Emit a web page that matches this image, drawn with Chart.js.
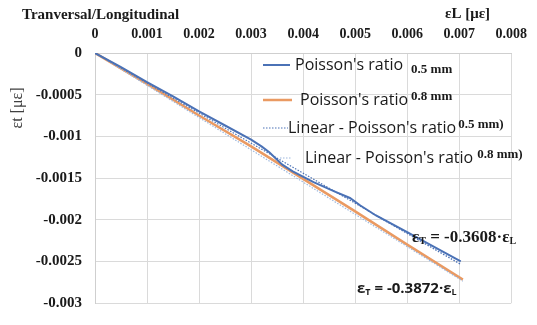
<!DOCTYPE html>
<html>
<head>
<meta charset="utf-8">
<script src="https://cdn.jsdelivr.net/npm/chart.js@4.4.1/dist/chart.umd.min.js"></script>
<style>
  html, body { margin: 0; padding: 0; background: #ffffff; }
  #wrap { width: 537px; height: 325px; }
</style>
</head>
<body>
<div id="wrap"><canvas id="c" width="537" height="325"></canvas></div>
<script>
// Longitudinal strain (x) and transversal strain (y) for the 0.5 mm specimen
const strainL05 = [0, 0.0005, 0.001, 0.0015, 0.002, 0.0025, 0.003, 0.0032, 0.00335, 0.0036, 0.0038, 0.0042, 0.0046, 0.0049, 0.0051, 0.0054, 0.006, 0.0065, 0.00703];
const strainT05 = [0, -0.00017, -0.00035, -0.00052, -0.0007, -0.00087, -0.00104, -0.00112, -0.00119, -0.00134, -0.00142, -0.00155, -0.00166, -0.00174, -0.00183, -0.00195, -0.00215, -0.00232, -0.0025];

// Same for the 0.8 mm specimen
const strainL08 = [0, 0.001, 0.002, 0.003, 0.004, 0.005, 0.006, 0.00707];
const strainT08 = [0, -0.00037, -0.00075, -0.00112, -0.00151, -0.0019, -0.0023, -0.00272];

// Fitted Poisson slopes (through the origin)
const slope05 = -0.3608;
const slope08 = -0.3872;
const fitRange05 = [0, 0.00703];
const fitRange08 = [0, 0.00707];

// Axis tick labels
const xTickLabels = ['0', '0.001', '0.002', '0.003', '0.004', '0.005', '0.006', '0.007', '0.008'];
const yTickLabels = ['0', '-0.0005', '-0.001', '-0.0015', '-0.002', '-0.0025', '-0.003'];

const BLUE = '#4b72b6';
const ORANGE = '#ea9a62';
const PALE = '#9db8de';

const pts = (xs, ys) => xs.map((x, i) => ({ x: x, y: ys[i] }));
const fit = (range, k) => range.map(x => ({ x: x, y: k * x }));

const SERIF = '"Liberation Serif", "Times New Roman", serif';
const SANS = '"Open Sans", "Noto Sans", sans-serif';

// Legend, titles and equations drawn directly on the canvas
const decor = {
  id: 'decor',
  afterDraw(chart) {
    const ctx = chart.ctx;
    ctx.save();
    ctx.textBaseline = 'middle';
    ctx.fillStyle = '#1a1a1a';

    ctx.font = 'bold 15px ' + SERIF;
    ctx.textAlign = 'left';
    ctx.fillText('Tranversal/Longitudinal', 22, 15);

    ctx.font = 'bold 15px ' + SERIF;
    ctx.fillText('εL [με]', 445, 14);

    ctx.save();
    ctx.translate(18, 108);
    ctx.rotate(-Math.PI / 2);
    ctx.textAlign = 'center';
    ctx.fillStyle = '#404040';
    ctx.font = '16px ' + SERIF;
    ctx.fillText('εt [με]', 0, 0);
    ctx.restore();

    // legend rows
    const row = (sx0, sx1, y, color, dash, lw, label, tx, script, dy, gap) => {
      ctx.save();
      ctx.strokeStyle = color;
      ctx.lineWidth = lw;
      ctx.setLineDash(dash);
      ctx.beginPath();
      ctx.moveTo(sx0, y);
      ctx.lineTo(sx1, y);
      ctx.stroke();
      ctx.restore();
      ctx.fillStyle = '#1a1a1a';
      ctx.font = '16px ' + SANS;
      ctx.fillText(label, tx, y);
      const w = ctx.measureText(label).width;
      ctx.font = 'bold 13px ' + SERIF;
      ctx.fillText(script, tx + w + gap, y + dy);
    };
    row(263, 290, 65, BLUE, [], 2, "Poisson's ratio", 295, '0.5 mm', 5, 8);
    row(263, 292, 100, ORANGE, [], 2.5, "Poisson's ratio", 300, '0.8 mm', -3, 3);
    row(263, 288, 128, BLUE, [1.5, 1.5], 1.2, "Linear - Poisson's ratio", 288, '0.5 mm)', -3, 2);
    row(280, 291, 158, PALE, [1.5, 1.5], 1.2, "Linear - Poisson's ratio", 305, '0.8 mm)', -3, 4);

    // fitted equations
    const eq = (x, y, big, small, value) => {
      ctx.fillStyle = '#1a1a1a';
      const parts = [['ε', big, 0], ['T', small, 3], [' = ' + value + '·', big, 0], ['ε', big, 0], ['L', small, 3]];
      let cx = x;
      parts.forEach(p => {
        ctx.font = p[1];
        ctx.fillText(p[0], cx, y + p[2]);
        cx += ctx.measureText(p[0]).width;
      });
    };
    eq(412, 238, 'bold 17px ' + SERIF, 'bold 10px ' + SERIF, slope05.toFixed(4));
    eq(357, 289, 'bold 15px ' + SANS, 'bold 9px ' + SANS, slope08.toFixed(4));

    ctx.restore();
  }
};

const PAD = { left: 4, right: 21, top: 4, bottom: 10 };

new Chart(document.getElementById('c'), {
  type: 'scatter',
  data: {
    datasets: [
      { data: pts(strainL08, strainT08), showLine: true, borderColor: ORANGE, borderWidth: 2.5, pointRadius: 0, order: 3 },
      { data: fit(fitRange08, slope08), showLine: true, borderColor: PALE, borderWidth: 1.2, borderDash: [1.5, 1.5], pointRadius: 0, order: 2 },
      { data: pts(strainL05, strainT05), showLine: true, borderColor: BLUE, borderWidth: 2, pointRadius: 0, order: 1 },
      { data: fit(fitRange05, slope05), showLine: true, borderColor: BLUE, borderWidth: 1.2, borderDash: [1.5, 1.5], pointRadius: 0, order: 0 }
    ]
  },
  options: {
    responsive: false,
    animation: false,
    devicePixelRatio: 1,
    layout: { padding: PAD },
    plugins: { legend: { display: false }, tooltip: { enabled: false } },
    scales: {
      x: {
        type: 'linear', position: 'top', min: 0, max: 0.008,
        afterFit: s => { s.height = 53 - PAD.top; },
        grid: { color: '#dadada', drawTicks: false },
        border: { color: '#cfcfcf' },
        ticks: {
          stepSize: 0.001, padding: 10, color: '#1a1a1a',
          font: { family: SERIF, size: 14, weight: 'bold' },
          callback: (v, i) => xTickLabels[i]
        }
      },
      y: {
        type: 'linear', min: -0.003, max: 0,
        afterFit: s => { s.width = 95 - PAD.left; },
        grid: { color: '#dadada', drawTicks: false },
        border: { color: '#cfcfcf' },
        ticks: {
          stepSize: 0.0005, padding: 13, color: '#1a1a1a',
          font: { family: SERIF, size: 15, weight: 'bold' },
          callback: (v, i, all) => yTickLabels[all.length - 1 - i]
        }
      }
    }
  },
  plugins: [decor]
});
</script>
</body>
</html>
